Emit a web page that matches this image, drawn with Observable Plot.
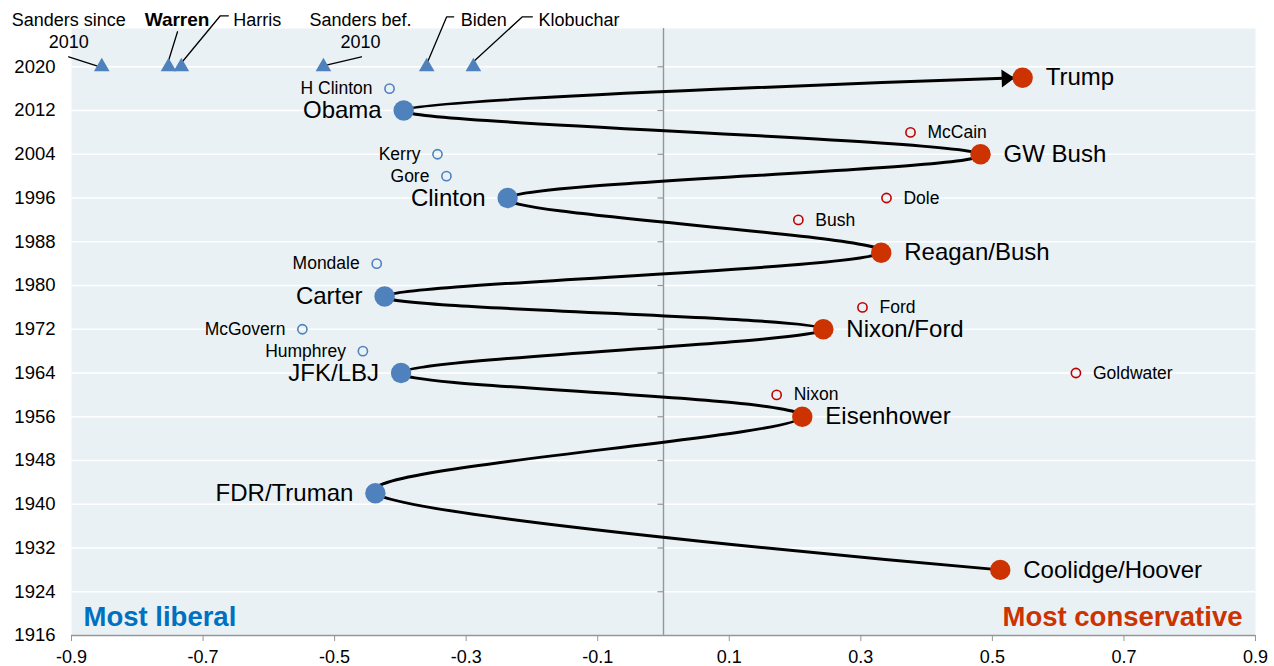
<!DOCTYPE html>
<html><head><meta charset="utf-8">
<script src="https://cdn.jsdelivr.net/npm/d3@7"></script>
<script src="https://cdn.jsdelivr.net/npm/@observablehq/plot@0.6"></script>
<style>html,body{margin:0;padding:0;background:#fff;} #chart{width:1274px;height:666px;}</style>
</head><body><div id="chart"></div>
<script>
// ---------- data ----------
const winners = ["Coolidge/Hoover","FDR/Truman","Eisenhower","JFK/LBJ","Nixon/Ford","Carter","Reagan/Bush","Clinton","GW Bush","Obama","Trump"];
const winnerYear = [1928,1942,1956,1964,1972,1978,1986,1996,2004,2012,2018];
const winnerScore = [0.512,-0.438,0.211,-0.399,0.243,-0.424,0.331,-0.237,0.482,-0.395,0.546];
const winnerParty = ["R","D","R","D","R","D","R","D","R","D","R"];

const losers = ["Nixon","Goldwater","Humphrey","McGovern","Ford","Mondale","Bush","Dole","Gore","Kerry","McCain","H Clinton"];
const loserYear = [1960,1964,1968,1972,1976,1984,1992,1996,2000,2004,2008,2016];
const loserScore = [0.172,0.627,-0.457,-0.549,0.3025,-0.436,0.205,0.339,-0.33,-0.3436,0.3755,-0.4165];
const loserParty = ["R","R","D","D","R","D","R","R","D","D","R","D"];

const candidates = ["Sanders since\n2010","Warren","Harris","Sanders bef.\n2010","Biden","Klobuchar"];
const candidateScore = [-0.854,-0.7525,-0.733,-0.517,-0.360,-0.289];
const candidateYear = 2020;

const xTicks = [-0.9,-0.7,-0.5,-0.3,-0.1,0.1,0.3,0.5,0.7,0.9];
const yTicks = [1916,1924,1932,1940,1948,1956,1964,1972,1980,1988,1996,2004,2012,2020];

// ---------- layout ----------
const W = 1274, H = 666;
const M = {top: 28, right: 19, bottom: 31, left: 71};
const xDomain = [-0.9, 0.9], yDomain = [1916, 2027];
const sx = (W - M.left - M.right) / (xDomain[1] - xDomain[0]);
const sy = (H - M.top - M.bottom) / (yDomain[1] - yDomain[0]);
const offX = (x, px) => x + px / sx;
const offY = (y, py) => y - py / sy;

const BLUE = "#4F81BD", RED = "#CC3300", RED_OPEN = "#C00000", BG = "#E9F1F5", AXIS = "#969696";
const FONT = "'Liberation Sans', Arial, Helvetica, sans-serif";

const winnerRows = winners.map((name, i) => ({name, year: winnerYear[i], score: winnerScore[i], party: winnerParty[i]}));
const loserRows = losers.map((name, i) => ({name, year: loserYear[i], score: loserScore[i], party: loserParty[i]}));
const candRows = candidates.map((name, i) => ({name, id: i, year: candidateYear, score: candidateScore[i]}));

// annotation layout: pixel offsets relative to each triangle
const annotLayout = [
  {text: [-33, -37], anchor: "middle", leader: [[-33, -10], [-5, -1]]},
  {text: [8.5, -48], anchor: "middle", bold: true, leader: [[9, -35], [0, -6]]},
  {text: [52, -48], anchor: "start", leader: [[47, -51], [39, -51], [1, -5]]},
  {text: [37, -37], anchor: "middle", leader: [[38, -10], [4, -2]]},
  {text: [34, -48], anchor: "start", leader: [[27, -50], [20, -50], [1, -5]]},
  {text: [65, -48], anchor: "start", leader: [[59, -50], [49, -50], [0, -5]]}
];
const leaderPts = candRows.flatMap((c, i) => annotLayout[i].leader.map(([dx, dy]) => ({id: i, x: offX(c.score, dx), y: offY(c.year, dy)})));
const annotTexts = candRows.map((c, i) => ({
  name: c.name, x: offX(c.score, annotLayout[i].text[0]), y: offY(c.year, annotLayout[i].text[1]),
  anchor: annotLayout[i].anchor, bold: !!annotLayout[i].bold
}));

const colorW = d => d.party === "D" ? BLUE : RED;
const colorL = d => d.party === "D" ? BLUE : RED_OPEN;

const leftTick = {draw(ctx) { ctx.moveTo(-6, 0); ctx.lineTo(0, 0); }};

function arrowHead() {
  const m = d3.create("svg:marker")
    .attr("viewBox", "-24 -10 24 20")
    .attr("markerWidth", 24).attr("markerHeight", 20)
    .attr("markerUnits", "userSpaceOnUse")
    .attr("refX", 0).attr("refY", 0)
    .attr("orient", "auto")
    .attr("overflow", "visible");
  m.append("path").attr("d", "M-8,0L-21,-9L-21,9Z").attr("fill", "black").attr("stroke", "none");
  return m.node();
}

function build(markerEnd) {
  const textMarks = annotTexts.map(a => Plot.text([a], {
    x: "x", y: "y", text: "name", textAnchor: a.anchor, lineAnchor: "middle",
    lineHeight: 1.22, fontSize: a.bold ? 19 : 18, fontWeight: a.bold ? "bold" : "normal", fill: "black"
  }));
  return Plot.plot({
    width: W, height: H,
    marginTop: M.top, marginRight: M.right, marginBottom: M.bottom, marginLeft: M.left,
    style: {fontFamily: FONT, background: "white", overflow: "visible"},
    x: {domain: xDomain},
    y: {domain: yDomain},
    marks: [
      Plot.frame({fill: BG, stroke: "none"}),
      Plot.ruleY(yTicks.filter(d => d > 1916), {stroke: "white", strokeWidth: 1.6}),
      Plot.ruleX([0], {stroke: AXIS, strokeWidth: 1.4}),
      Plot.ruleY([1916], {stroke: AXIS, strokeWidth: 1.4}),
      Plot.dot(yTicks.filter(d => d > 1916), {x: 0, y: d => d, symbol: leftTick, stroke: AXIS, strokeWidth: 1.2, fill: "none"}),
      Plot.axisX({ticks: xTicks, tickFormat: d => d.toFixed(1), tickSize: 6, tickPadding: 9, stroke: AXIS, fill: "black", fontSize: 18}),
      Plot.axisY({ticks: yTicks, tickFormat: d => `${d}`, tickSize: 0, tickPadding: 16, fill: "black", fontSize: 18.5}),
      Plot.line(winnerRows, {x: "score", y: "year", curve: "cardinal", stroke: "black", strokeWidth: 3, markerEnd}),
      Plot.line(leaderPts, {x: "x", y: "y", z: "id", stroke: "black", strokeWidth: 1.3}),
      Plot.dot(candRows, {x: "score", y: "year", symbol: "triangle", r: 5.8, fill: BLUE, stroke: "none"}),
      Plot.dot(loserRows, {x: "score", y: "year", r: 4.6, fill: "none", stroke: colorL, strokeWidth: 1.6}),
      Plot.dot(winnerRows, {x: "score", y: "year", r: 10.2, fill: colorW, stroke: "none"}),
      Plot.text(winnerRows.filter(d => d.party === "D"), {x: "score", y: "year", text: "name", textAnchor: "end", dx: -22, fontSize: 24, fill: "black"}),
      Plot.text(winnerRows.filter(d => d.party === "R"), {x: "score", y: "year", text: "name", textAnchor: "start", dx: 23, fontSize: 24, fill: "black"}),
      Plot.text(loserRows.filter(d => d.party === "D"), {x: "score", y: "year", text: "name", textAnchor: "end", dx: -17, fontSize: 17.5, fill: "black"}),
      Plot.text(loserRows.filter(d => d.party === "R"), {x: "score", y: "year", text: "name", textAnchor: "start", dx: 17, fontSize: 17.5, fill: "black"}),
      ...textMarks,
      Plot.text(["Most liberal"], {frameAnchor: "bottom-left", textAnchor: "start", lineAnchor: "middle", dx: 12, dy: -18, fontSize: 27.5, fontWeight: "bold", fill: "#0070C0"}),
      Plot.text(["Most conservative"], {frameAnchor: "bottom-right", textAnchor: "end", lineAnchor: "middle", dx: -13, dy: -18, fontSize: 27.5, fontWeight: "bold", fill: RED})
    ]
  });
}

let chart;
try { chart = build(arrowHead); } catch (e) { chart = build("arrow"); }
document.getElementById("chart").appendChild(chart);
</script></body></html>
